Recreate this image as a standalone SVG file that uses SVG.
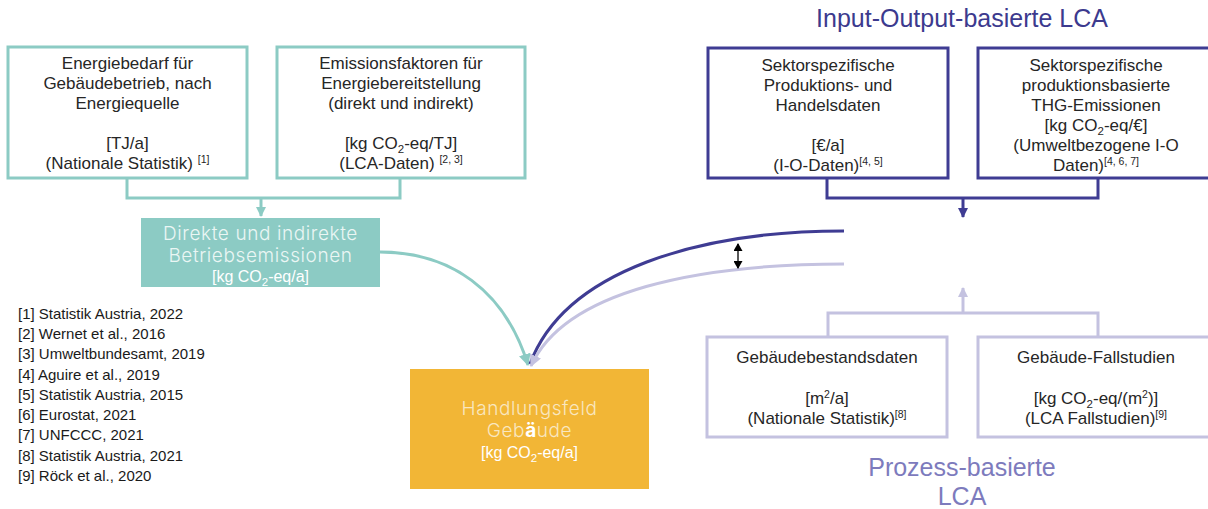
<svg xmlns="http://www.w3.org/2000/svg" width="1208" height="509" viewBox="0 0 1208 509">
<style>
.bt{font-family:"Liberation Sans",Arial,sans-serif;font-size:17px;fill:#262626;text-anchor:middle}
.sup{font-size:10.5px}
.sub{font-size:11.5px}
.teal{fill:none;stroke:#8ccbc4;stroke-width:3}
.dark{fill:none;stroke:#3f3c93;stroke-width:3}
.light{fill:none;stroke:#c4c2e0;stroke-width:3}
.lt{font-family:Inter,"Liberation Sans",sans-serif;font-weight:300;font-size:19px;text-anchor:middle;letter-spacing:0.6px}
.unit{font-family:"Liberation Sans",Arial,sans-serif;font-size:16px;fill:#ffffff;text-anchor:middle}
.ref{font-family:"Liberation Sans",Arial,sans-serif;font-size:15px;fill:#1a1a1a}
.big{font-family:"Liberation Sans",Arial,sans-serif;font-size:25px;text-anchor:middle}
</style>
<defs>
<marker id="aT" markerUnits="userSpaceOnUse" markerWidth="10" markerHeight="10" refX="9" refY="5" orient="auto"><path d="M0,0 L10,5 L0,10 z" fill="#8ccbc4"/></marker>
<marker id="aD" markerUnits="userSpaceOnUse" markerWidth="10" markerHeight="10" refX="9" refY="5" orient="auto"><path d="M0,0 L10,5 L0,10 z" fill="#3f3c93"/></marker>
<marker id="aL" markerUnits="userSpaceOnUse" markerWidth="10" markerHeight="10" refX="9" refY="5" orient="auto"><path d="M0,0 L10,5 L0,10 z" fill="#c4c2e0"/></marker>
<marker id="aTb" markerUnits="userSpaceOnUse" markerWidth="12" markerHeight="12" refX="11" refY="6" orient="auto"><path d="M0,0 L12,6 L0,12 z" fill="#8ccbc4"/></marker>
<marker id="aLb" markerUnits="userSpaceOnUse" markerWidth="12" markerHeight="12" refX="11" refY="6" orient="auto"><path d="M0,0 L12,6 L0,12 z" fill="#c4c2e0"/></marker>
<marker id="aK" markerUnits="userSpaceOnUse" markerWidth="8" markerHeight="9" refX="7" refY="4.5" orient="auto-start-reverse"><path d="M0,0 L8,4.5 L0,9 z" fill="#000"/></marker>
</defs>

<text class="big" x="962" y="27" fill="#3c3a8e">Input-Output-basierte LCA</text>
<text class="big" x="962" y="476" fill="#7d7bbd">Prozess-basierte</text>
<text class="big" x="962" y="505" fill="#7d7bbd">LCA</text>

<g id="connectors">
<path class="teal" d="M127,178 V198 H400 V178"/>
<path class="teal" d="M261,198 V216" marker-end="url(#aT)"/>
<path class="dark" d="M827,178 V198 H1098 V178"/>
<path class="dark" d="M963,198 V217" marker-end="url(#aD)"/>
<path class="light" d="M828,337 V313 H1098 V337"/>
<path class="light" d="M963,313 V288" marker-end="url(#aL)"/>
<path class="teal" d="M380,252 C450,252 505,290 528,365" marker-end="url(#aTb)"/>
<path class="dark" d="M844,231 C700,231 565,270 530,364"/>
<path class="light" d="M844,264 C700,264 565,290 531,366" marker-end="url(#aLb)"/>
<path d="M738,244 V268" stroke="#000" stroke-width="1.3" fill="none" marker-start="url(#aK)" marker-end="url(#aK)"/>
</g>

<g id="n1">
<rect x="8" y="47" width="239" height="131" fill="#fff" stroke="#8ccbc4" stroke-width="3"/>
<text class="bt" x="127.5" y="69">Energiebedarf für</text>
<text class="bt" x="127.5" y="89">Gebäudebetrieb, nach</text>
<text class="bt" x="127.5" y="109">Energiequelle</text>
<text class="bt" x="127.5" y="149">[TJ/a]</text>
<text class="bt" x="127.5" y="169">(Nationale Statistik) <tspan class="sup" dy="-6">[1]</tspan></text>
</g>

<g id="n2">
<rect x="277" y="47" width="248" height="131" fill="#fff" stroke="#8ccbc4" stroke-width="3"/>
<text class="bt" x="401" y="69">Emissionsfaktoren für</text>
<text class="bt" x="401" y="89">Energiebereitstellung</text>
<text class="bt" x="401" y="109">(direkt und indirekt)</text>
<text class="bt" x="401" y="149">[kg CO<tspan class="sub" dy="4">2</tspan><tspan dy="-4">-eq/TJ]</tspan></text>
<text class="bt" x="401" y="169">(LCA-Daten) <tspan class="sup" dy="-6">[2, 3]</tspan></text>
</g>

<g id="n3">
<rect x="141" y="218" width="239" height="69" fill="#8ccbc4"/>
<text class="lt" x="260.5" y="240" fill="#eaf6f4">Direkte und indirekte</text>
<text class="lt" x="260.5" y="262" fill="#eaf6f4">Betriebsemissionen</text>
<text class="unit" x="260.5" y="282">[kg CO<tspan class="sub" dy="4">2</tspan><tspan dy="-4">-eq/a]</tspan></text>
</g>

<g id="n4">
<rect x="410" y="369" width="239" height="120" fill="#f2b636"/>
<text class="lt" x="529.5" y="415" fill="#f9e7c0">Handlungsfeld</text>
<text class="lt" x="529.5" y="437" fill="#f9e7c0">Geb<tspan font-weight="700" fill="#ffffff">ä</tspan>ude</text>
<text class="unit" x="529.5" y="458">[kg CO<tspan class="sub" dy="4">2</tspan><tspan dy="-4">-eq/a]</tspan></text>
</g>

<g id="n5">
<rect x="708" y="48" width="240" height="130" fill="#fff" stroke="#3f3c93" stroke-width="3"/>
<text class="bt" x="828" y="71">Sektorspezifische</text>
<text class="bt" x="828" y="91">Produktions- und</text>
<text class="bt" x="828" y="111">Handelsdaten</text>
<text class="bt" x="828" y="151">[€/a]</text>
<text class="bt" x="828" y="171">(I-O-Daten)<tspan class="sup" dy="-6">[4, 5]</tspan></text>
</g>

<g id="n6">
<rect x="978" y="48" width="240" height="130" fill="#fff" stroke="#3f3c93" stroke-width="3"/>
<text class="bt" x="1096" y="71">Sektorspezifische</text>
<text class="bt" x="1096" y="91">produktionsbasierte</text>
<text class="bt" x="1096" y="111">THG-Emissionen</text>
<text class="bt" x="1096" y="131">[kg CO<tspan class="sub" dy="4">2</tspan><tspan dy="-4">-eq/€]</tspan></text>
<text class="bt" x="1096" y="151">(Umweltbezogene I-O</text>
<text class="bt" x="1096" y="171">Daten)<tspan class="sup" dy="-6">[4, 6, 7]</tspan></text>
</g>

<g id="n7">
<rect x="707" y="337" width="240" height="100" fill="#fff" stroke="#c4c2e0" stroke-width="3"/>
<text class="bt" x="827" y="363">Gebäudebestandsdaten</text>
<text class="bt" x="827" y="404">[m<tspan class="sup" dy="-6">2</tspan><tspan dy="6">/a]</tspan></text>
<text class="bt" x="827" y="424">(Nationale Statistik)<tspan class="sup" dy="-6">[8]</tspan></text>
</g>

<g id="n8">
<rect x="978" y="337" width="240" height="100" fill="#fff" stroke="#c4c2e0" stroke-width="3"/>
<text class="bt" x="1096" y="363">Gebäude-Fallstudien</text>
<text class="bt" x="1096" y="404">[kg CO<tspan class="sub" dy="4">2</tspan><tspan dy="-4">-eq/(m</tspan><tspan class="sup" dy="-6">2</tspan><tspan dy="6">)]</tspan></text>
<text class="bt" x="1096" y="424">(LCA Fallstudien)<tspan class="sup" dy="-6">[9]</tspan></text>
</g>

<g id="refs">
<text class="ref" x="18" y="319">[1] Statistik Austria, 2022</text>
<text class="ref" x="18" y="339">[2] Wernet et al., 2016</text>
<text class="ref" x="18" y="359">[3] Umweltbundesamt, 2019</text>
<text class="ref" x="18" y="380">[4] Aguire et al., 2019</text>
<text class="ref" x="18" y="400">[5] Statistik Austria, 2015</text>
<text class="ref" x="18" y="420">[6] Eurostat, 2021</text>
<text class="ref" x="18" y="440">[7] UNFCCC, 2021</text>
<text class="ref" x="18" y="461">[8] Statistik Austria, 2021</text>
<text class="ref" x="18" y="481">[9] Röck et al., 2020</text>
</g>
</svg>
